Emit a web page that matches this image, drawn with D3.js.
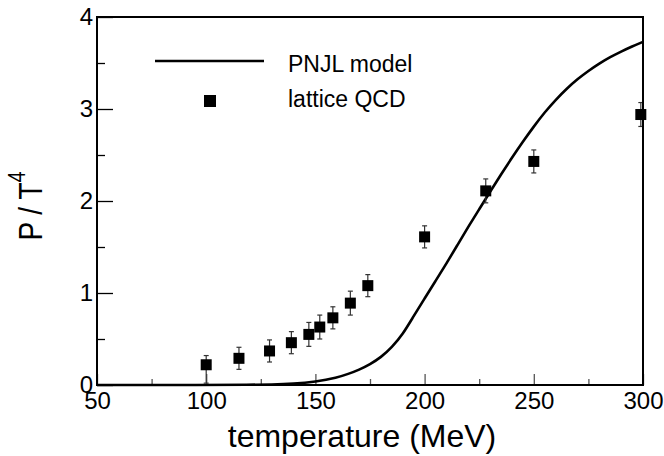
<!DOCTYPE html>
<html>
<head>
<meta charset="utf-8">
<script src="https://cdn.jsdelivr.net/npm/d3@7"></script>
<style>
  html, body { margin: 0; padding: 0; background: #fff; }
  svg { display: block; font-family: "Liberation Sans", Arial, Helvetica, sans-serif; }
</style>
</head>
<body>
<svg id="chart" width="664" height="456"></svg>
<script>
// ---- data ----
const modelT = [50, 100, 120, 130, 140, 150, 160, 165, 170, 175, 180, 185, 190, 195, 200, 205, 210, 215, 220, 225, 230, 235, 240, 245, 250, 255, 260, 265, 270, 275, 280, 285, 290, 295, 300];
const modelP = [0, 0, 0.002, 0.005, 0.013, 0.035, 0.08, 0.12, 0.165, 0.225, 0.3, 0.41, 0.55, 0.75, 0.94, 1.13, 1.32, 1.52, 1.72, 1.91, 2.1, 2.29, 2.47, 2.645, 2.81, 2.965, 3.1, 3.22, 3.325, 3.415, 3.495, 3.565, 3.625, 3.68, 3.73];

const latticeT = [100, 115, 129, 139, 147, 152, 158, 166, 174, 200, 228, 250, 299];
const latticeP = [0.22, 0.29, 0.37, 0.46, 0.55, 0.63, 0.73, 0.89, 1.08, 1.61, 2.11, 2.43, 2.94];
const latticeErrHi = [0.10, 0.12, 0.12, 0.12, 0.13, 0.13, 0.12, 0.13, 0.12, 0.12, 0.13, 0.125, 0.13];
const latticeErrLo = [0.20, 0.12, 0.12, 0.12, 0.13, 0.13, 0.12, 0.13, 0.12, 0.12, 0.13, 0.125, 0.13];

const xMajorTicks = [50, 100, 150, 200, 250, 300];
const xMinorTicks = [75, 125, 175, 225, 275];
const yMajorTicks = [0, 1, 2, 3, 4];
const yMinorTicks = [0.5, 1.5, 2.5, 3.5];

const legendLabels = ["PNJL model", "lattice QCD"];
const xTitle = "temperature (MeV)";

// ---- layout ----
const svg = d3.select("#chart");
const L = 97, R = 643, T = 17, B = 385;
const x = d3.scaleLinear().domain([50, 300]).range([L, R]);
const y = d3.scaleLinear().domain([0, 4]).range([B, T]);

// x axis (ticks pointing inward)
const gx = svg.append("g").attr("transform", `translate(0,${B})`);
gx.call(d3.axisBottom(x).tickValues(xMajorTicks).tickSize(-11).tickPadding(7).tickFormat(d3.format("d")));
const gxm = svg.append("g").attr("transform", `translate(0,${B})`);
gxm.call(d3.axisBottom(x).tickValues(xMinorTicks).tickSize(-6).tickFormat(""));
[gx, gxm].forEach(g => {
  g.select(".domain").remove();
  g.selectAll(".tick line").attr("stroke", "#555").attr("stroke-width", 1.3);
});
gx.selectAll(".tick text").attr("font-size", 24).attr("fill", "#000")
  .attr("font-family", "Liberation Sans, Arial, sans-serif");

// y axis
const gy = svg.append("g").attr("transform", `translate(${L},0)`);
gy.call(d3.axisLeft(y).tickValues(yMajorTicks).tickSize(-16).tickPadding(4).tickFormat(d3.format("d")));
const gym = svg.append("g").attr("transform", `translate(${L},0)`);
gym.call(d3.axisLeft(y).tickValues(yMinorTicks).tickSize(-8).tickFormat(""));
[gy, gym].forEach(g => {
  g.select(".domain").remove();
  g.selectAll(".tick line").attr("stroke", "#000").attr("stroke-width", 1.3);
});
gy.selectAll(".tick text").attr("font-size", 24).attr("fill", "#000")
  .attr("font-family", "Liberation Sans, Arial, sans-serif");

// model curve
const line = d3.line().x((d, i) => x(modelT[i])).y((d, i) => y(modelP[i])).curve(d3.curveBasis);
svg.append("path").datum(modelP).attr("d", line)
  .attr("fill", "none").attr("stroke", "#000").attr("stroke-width", 2.6);

// lattice points with error bars
const pts = latticeT.map((t, i) => ({t, p: latticeP[i], hi: latticeErrHi[i], lo: latticeErrLo[i]}));
const eb = svg.append("g").attr("stroke", "#333").attr("stroke-width", 1.2);
pts.forEach(d => {
  const cx = x(d.t), yt = y(d.p + d.hi), yb = y(d.p - d.lo);
  eb.append("line").attr("x1", cx).attr("x2", cx).attr("y1", yt).attr("y2", yb);
  eb.append("line").attr("x1", cx - 2.5).attr("x2", cx + 2.5).attr("y1", yt).attr("y2", yt);
  eb.append("line").attr("x1", cx - 2.5).attr("x2", cx + 2.5).attr("y1", yb).attr("y2", yb);
});
const ms = 11;
svg.append("g").selectAll("rect").data(pts).join("rect")
  .attr("x", d => x(d.t) - ms / 2).attr("y", d => y(d.p) - ms / 2)
  .attr("width", ms).attr("height", ms).attr("fill", "#000");

// frame
svg.append("rect").attr("x", L).attr("y", T).attr("width", R - L).attr("height", B - T)
  .attr("fill", "none").attr("stroke", "#000").attr("stroke-width", 2);

// legend
svg.append("line").attr("x1", 155).attr("x2", 264).attr("y1", 61).attr("y2", 61)
  .attr("stroke", "#000").attr("stroke-width", 2.6);
svg.append("text").attr("x", 288).attr("y", 71.5).attr("font-size", 23).text(legendLabels[0]);
svg.append("rect").attr("x", 210 - 6).attr("y", 101 - 6).attr("width", 12).attr("height", 12).attr("fill", "#000");
svg.append("text").attr("x", 288).attr("y", 107).attr("font-size", 23).text(legendLabels[1]);

// axis titles
svg.append("text").attr("x", 362).attr("y", 447).attr("text-anchor", "middle")
  .attr("font-size", 32).text(xTitle);

const yt = svg.append("text").attr("transform", "translate(42,206) rotate(-90) scale(1,1.2)")
  .attr("text-anchor", "middle").attr("font-size", 28);
yt.append("tspan").text("P / T");
yt.append("tspan").attr("font-size", 20).attr("dy", -14).text("4");
</script>
</body>
</html>
